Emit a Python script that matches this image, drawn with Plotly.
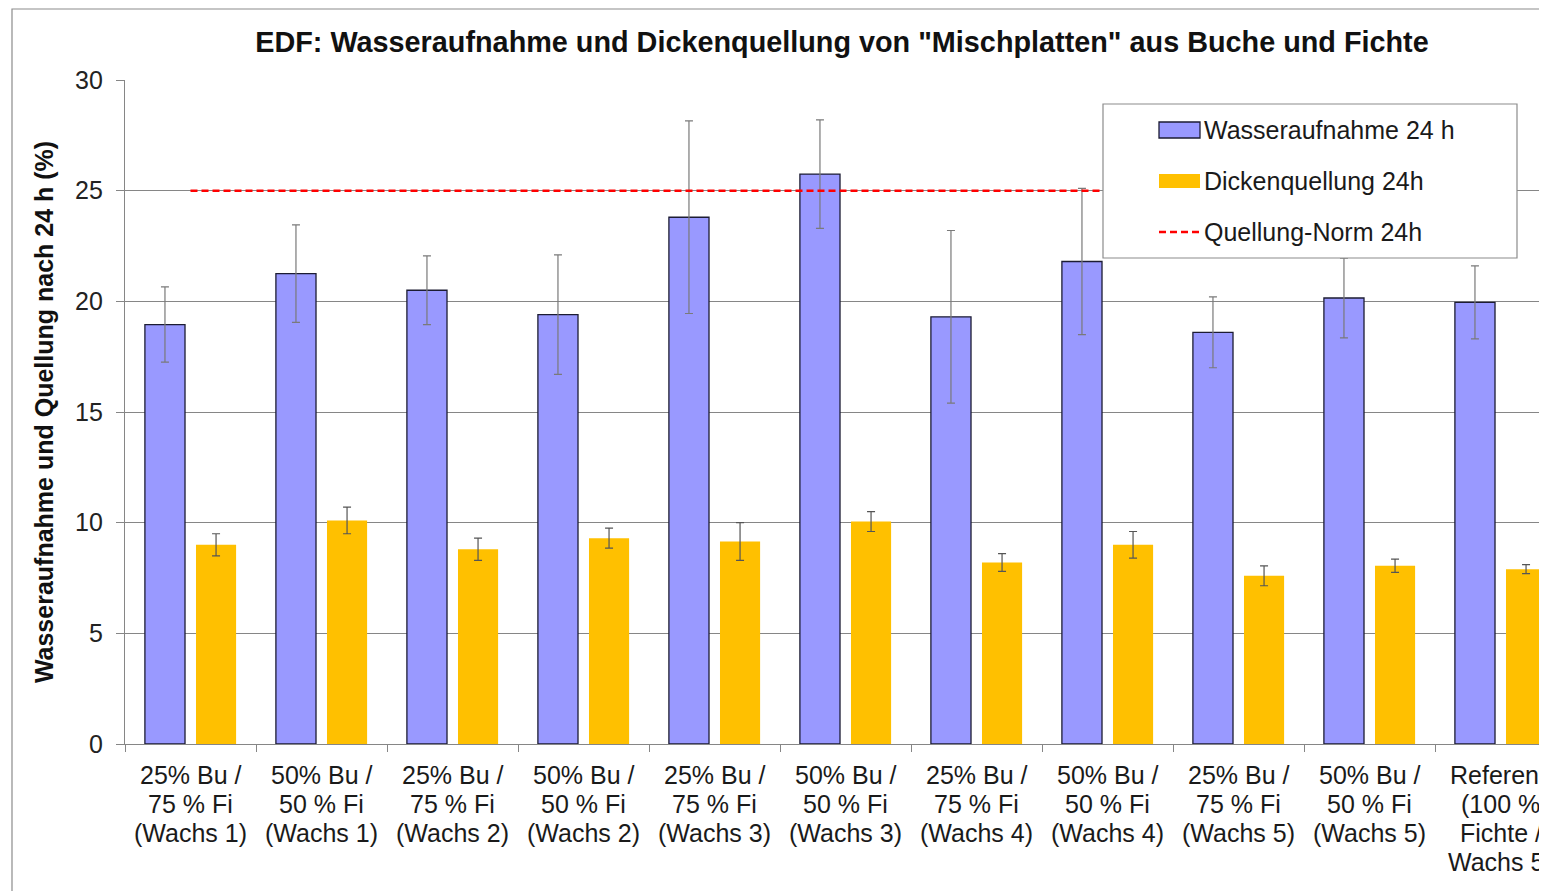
import plotly.graph_objects as go

# ---------------- data ----------------
categories = [
    "25% Bu /<br>75 % Fi<br>(Wachs 1)",
    "50% Bu /<br>50 % Fi<br>(Wachs 1)",
    "25% Bu /<br>75 % Fi<br>(Wachs 2)",
    "50% Bu /<br>50 % Fi<br>(Wachs 2)",
    "25% Bu /<br>75 % Fi<br>(Wachs 3)",
    "50% Bu /<br>50 % Fi<br>(Wachs 3)",
    "25% Bu /<br>75 % Fi<br>(Wachs 4)",
    "50% Bu /<br>50 % Fi<br>(Wachs 4)",
    "25% Bu /<br>75 % Fi<br>(Wachs 5)",
    "50% Bu /<br>50 % Fi<br>(Wachs 5)",
    "Referenz<br>(100 %<br>Fichte /<br>Wachs 5)",
]
wasseraufnahme = [18.95, 21.25, 20.5, 19.4, 23.8, 25.75, 19.3, 21.8, 18.6, 20.15, 19.95]
wasseraufnahme_err = [1.7, 2.2, 1.55, 2.7, 4.35, 2.45, 3.9, 3.3, 1.6, 1.8, 1.65]
dickenquellung = [9.0, 10.1, 8.8, 9.3, 9.15, 10.05, 8.2, 9.0, 7.6, 8.05, 7.9]
dickenquellung_err = [0.5, 0.6, 0.5, 0.45, 0.85, 0.45, 0.4, 0.6, 0.45, 0.3, 0.2]
norm_value = 25
y_ticks = [0, 5, 10, 15, 20, 25, 30]

title_text = 'EDF: Wasseraufnahme und Dickenquellung von "Mischplatten" aus Buche und Fichte'
y_title = "Wasseraufnahme und Quellung nach 24 h (%)"
names = ["Wasseraufnahme 24 h", "Dickenquellung 24h", "Quellung-Norm 24h"]
colors = ["#9999FF", "#FFC000", "#FF0000"]

# ---------------- layout constants (window pixels) ----------------
OFF = 8                      # default page body margin
WIN_W, WIN_H = 1547, 891
W, H = WIN_W - OFF, WIN_H - OFF
PL, PT, PB = 125, 80, 744    # plot area left / top / bottom in window pixels
L, T = PL - OFF, PT - OFF
B = H - (PB - OFF)
plot_w = W - L
plot_h = H - T - B
cat_px = 131.0
x_end = -0.5 + plot_w / cat_px
FONT = "Liberation Sans, Arial, sans-serif"
GRID = "#868686"
TXT = "#1a1a1a"


def px_x(p):
    return (p - PL) / plot_w


def px_y(p):
    return (PB - p) / plot_h


fig = go.Figure()
fig.add_trace(go.Bar(
    x=categories, y=wasseraufnahme, name=names[0], showlegend=False,
    marker=dict(color=colors[0], line=dict(color="#1c1c33", width=1.3)),
    error_y=dict(type="data", array=wasseraufnahme_err, color="#7a7a7a", thickness=1.2, width=4),
))
fig.add_trace(go.Bar(
    x=categories, y=dickenquellung, name=names[1], showlegend=False,
    marker=dict(color=colors[1], line=dict(width=0)),
    error_y=dict(type="data", array=dickenquellung_err, color="#555555", thickness=1.2, width=4),
))
fig.add_trace(go.Scatter(
    x=categories, y=[norm_value] * len(categories), name=names[2], showlegend=False,
    mode="lines", line=dict(color=colors[2], width=2.5, dash="7px,4px"),
))

# x labels as line-by-line annotations (Excel-like tight line spacing)
line_y = [775, 804, 833, 862]
for c in categories:
    for k, part in enumerate(c.split("<br>")):
        fig.add_annotation(
            x=c, xref="x", y=px_y(line_y[k]), yref="paper",
            text=part, showarrow=False, xanchor="center", yanchor="middle",
            font=dict(family=FONT, size=25, color=TXT),
        )

# outer chart border (left / top visible)
fig.add_shape(type="rect", xref="paper", yref="paper",
              x0=px_x(12), x1=px_x(WIN_W + 60), y0=px_y(WIN_H + 60), y1=px_y(9),
              line=dict(color="#8c8c8c", width=1.2), layer="below")

# legend box (Excel style)
fig.add_shape(type="rect", xref="paper", yref="paper",
              x0=px_x(1103), x1=px_x(1517), y0=px_y(258), y1=px_y(104),
              line=dict(color="#8c8c8c", width=1.2), fillcolor="white", layer="above")
fig.add_shape(type="rect", xref="paper", yref="paper",
              x0=px_x(1159), x1=px_x(1200), y0=px_y(138), y1=px_y(122),
              line=dict(color="#1c1c33", width=1.3), fillcolor=colors[0], layer="above")
fig.add_shape(type="rect", xref="paper", yref="paper",
              x0=px_x(1159), x1=px_x(1200), y0=px_y(188), y1=px_y(174),
              line=dict(width=0), fillcolor=colors[1], layer="above")
fig.add_shape(type="line", xref="paper", yref="paper",
              x0=px_x(1159), x1=px_x(1200), y0=px_y(232), y1=px_y(232),
              line=dict(color=colors[2], width=2.5, dash="7px,4px"), layer="above")
for name, yc in zip(names, [130, 181, 232]):
    fig.add_annotation(x=px_x(1202), y=px_y(yc), xref="paper", yref="paper",
                       text=name, showarrow=False, xanchor="left", yanchor="middle",
                       font=dict(family=FONT, size=25, color=TXT))

fig.update_layout(
    width=W, height=H, autosize=False,
    margin=dict(l=L, r=0, t=T, b=B, pad=0),
    paper_bgcolor="white", plot_bgcolor="white",
    barmode="group", bargap=0.22, bargroupgap=0.215,
    font=dict(family=FONT, size=24, color=TXT),
    showlegend=False,
    title=dict(text="<b>" + title_text + "</b>", x=px_x(842), xref="paper", xanchor="center",
               y=1 - (42 - OFF) / H, yref="container", yanchor="middle",
               font=dict(family=FONT, size=28.8, color="#111111")),
    xaxis=dict(range=[-0.5, x_end], showticklabels=False, tickson="boundaries",
               ticks="outside", ticklen=7, tickcolor=GRID, showline=True, linecolor=GRID,
               linewidth=1.2, showgrid=False, zeroline=False, fixedrange=True),
    yaxis=dict(range=[0, 30], tickvals=y_ticks, ticks="outside", ticklen=8, tickcolor=GRID,
               ticklabelstandoff=8,
               showline=True, linecolor=GRID, linewidth=1.2, showgrid=True, gridcolor=GRID,
               gridwidth=1.2, zeroline=False, tickfont=dict(family=FONT, size=25, color="#222222"),
               title=dict(text="<b>" + y_title + "</b>", standoff=14,
                          font=dict(family=FONT, size=25, color="#111111"))),
)

fig.write_html("out.html")
